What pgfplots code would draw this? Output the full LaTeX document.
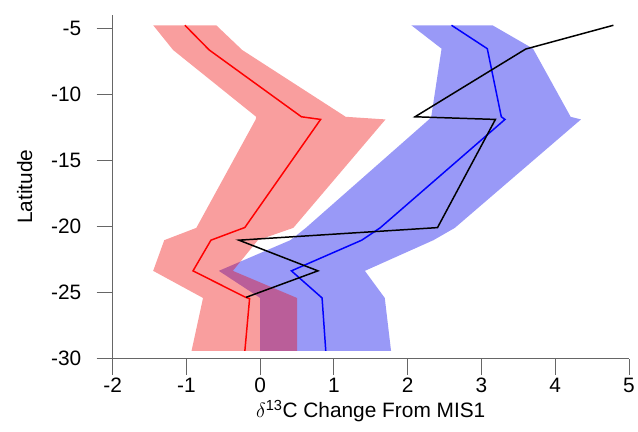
\documentclass[border=0pt]{standalone}
\usepackage{fontspec}
\setmainfont{Liberation Sans}
\usepackage{pgfplots}
\pgfplotsset{compat=1.18}
\definecolor{bandblue}{rgb}{0.6,0.6,0.97}
\definecolor{bandred}{rgb}{0.94,0,0}
\definecolor{axisgray}{rgb}{0.4,0.4,0.4}
\begin{document}
\begin{tikzpicture}[font=\fontsize{21}{25}\selectfont]
\begin{axis}[
  width=518bp, height=345bp, scale only axis,
  xmin=-2, xmax=5, ymin=-30, ymax=-4,
  axis x line*=bottom, axis y line*=left,
  axis line style={axisgray, line width=0.8pt, -},
  xtick={-2,...,5}, ytick={-30,-25,...,-5},
  tick align=outside, major tick length=16bp,
  tick style={axisgray, line width=0.8pt},
  /pgf/number format/assume math mode=true,
  yticklabel style={xshift=-12bp},
  xlabel={$\delta$\textsuperscript{13}C Change From MIS1},
  ylabel={Latitude},
  ylabel shift=12bp,
]
% blue uncertainty band
\addplot[draw=none, fill=bandblue] coordinates {
  (2.05,-4.78) (2.46,-6.55) (2.32,-11.7) (2.29,-11.9) (0.62,-20.1)
  (0.41,-21.03) (-0.56,-23.35) (0.0,-25.4) (0.0,-29.4)
  (1.775,-29.4) (1.69,-25.4) (1.42,-23.35) (2.35,-21.03) (2.64,-20.1)
  (4.35,-11.9) (4.21,-11.7) (3.70,-6.55) (3.15,-4.78)
} -- cycle;
% red uncertainty band
\addplot[draw=none, fill=bandred, fill opacity=0.38] coordinates {
  (-1.45,-4.78) (-1.18,-6.65) (-0.054,-11.7) (-0.06,-11.9) (-0.865,-20.1)
  (-1.30,-21.03) (-1.45,-23.35) (-0.774,-25.4) (-0.93,-29.4)
  (0.5,-29.4) (0.5,-25.4) (-0.37,-23.35) (-0.03,-21.03) (0.45,-20.1)
  (1.70,-11.9) (1.16,-11.7) (-0.243,-6.65) (-0.595,-4.78)
} -- cycle;
% red line
\addplot[red, line width=1.5pt] coordinates {
  (-1.02,-4.78) (-0.69,-6.65) (0.56,-11.7) (0.82,-11.9) (-0.207,-20.07)
  (-0.667,-21.03) (-0.91,-23.35) (-0.198,-25.35) (-0.143,-25.45) (-0.207,-29.4)
};
% blue line
\addplot[blue, line width=1.5pt] coordinates {
  (2.595,-4.78) (3.08,-6.55) (3.27,-11.7) (3.32,-11.9) (1.627,-20.1)
  (1.378,-21.03) (0.424,-23.35) (0.84,-25.4) (0.89,-29.4)
};
% black line
\addplot[black, line width=1.5pt] coordinates {
  (4.79,-4.78) (3.60,-6.58) (2.10,-11.7) (3.19,-11.9) (2.405,-20.08)
  (-0.288,-21.03) (0.784,-23.35) (-0.19,-25.35)
};
\end{axis}
\path ([xshift=-113bp,yshift=-73bp]current axis.south west) rectangle ([xshift=7bp,yshift=15bp]current axis.north east);
\end{tikzpicture}
\end{document}
